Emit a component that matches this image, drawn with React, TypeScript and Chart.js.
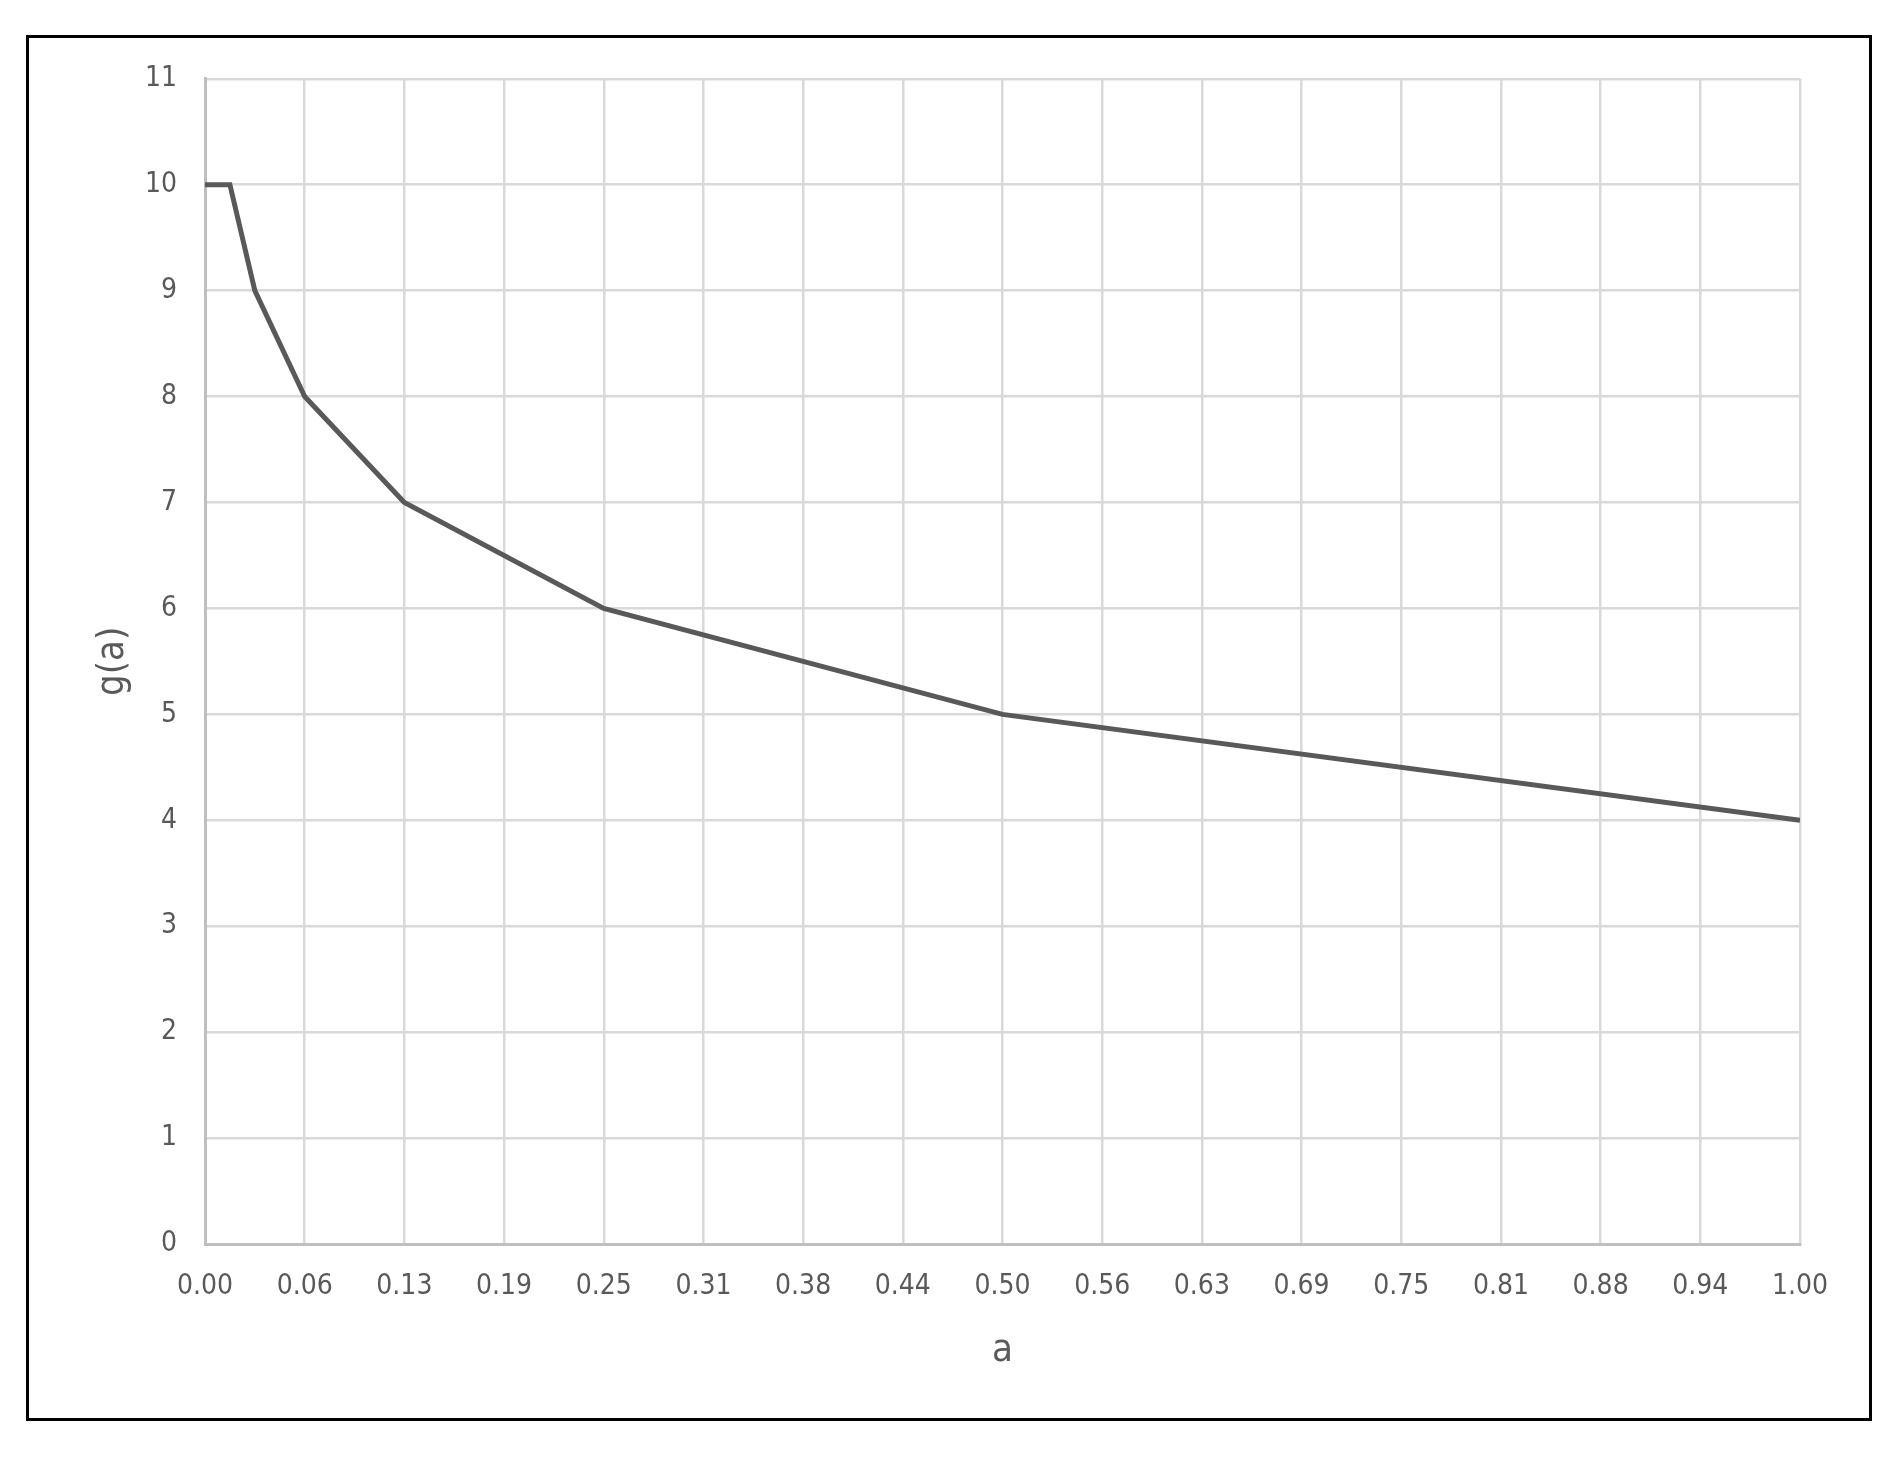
import React, { useEffect, useRef } from "react";
import { Chart, registerables } from "chart.js";

Chart.register(...registerables);

const aValues = [0, 0.015625, 0.03125, 0.0625, 0.125, 0.25, 0.5, 1];
const gValues = [10, 10, 9, 8, 7, 6, 5, 4];
const xTickLabels = [
  "0.00", "0.06", "0.13", "0.19", "0.25", "0.31", "0.38", "0.44", "0.50",
  "0.56", "0.63", "0.69", "0.75", "0.81", "0.88", "0.94", "1.00",
];
const yTickLabels = ["0", "1", "2", "3", "4", "5", "6", "7", "8", "9", "10", "11"];

const FONT = "'Liberation Sans Narrow', 'DejaVu Sans Condensed', 'Liberation Sans', sans-serif";

export default function App() {
  const ref = useRef<HTMLCanvasElement | null>(null);
  useEffect(() => {
    if (!ref.current) return;
    const chart = new Chart(ref.current, {
      type: "scatter",
      data: {
        datasets: [
          {
            data: aValues.map((a, i) => ({ x: a, y: gValues[i] })),
            showLine: true,
            borderColor: "#595959",
            borderWidth: 5,
            pointRadius: 0,
            fill: false,
            tension: 0,
          },
        ],
      },
      options: {
        animation: false,
        responsive: true,
        maintainAspectRatio: false,
        layout: { padding: { top: 35, right: 69, left: 0, bottom: 0 } },
        plugins: { legend: { display: false }, tooltip: { enabled: false } },
        scales: {
          x: {
            type: "linear",
            min: 0,
            max: 1,
            afterFit: (s: any) => { s.height = 174; },
            ticks: {
              stepSize: 0.0625,
              autoSkip: false,
              maxRotation: 0,
              padding: 26,
              color: "#595959",
              font: { family: FONT, size: 28 },
              callback: (_v: any, i: number) => xTickLabels[i],
            },
            grid: { color: "#d9d9d9", lineWidth: 2.5, drawTicks: false },
            border: { color: "#bfbfbf", width: 3 },
            title: {
              display: true,
              text: "a",
              color: "#595959",
              font: { family: FONT, size: 38 },
              padding: { top: 0, bottom: 44 },
            },
          },
          y: {
            min: 0,
            max: 11,
            afterFit: (s: any) => { s.width = 176; },
            ticks: {
              stepSize: 1,
              padding: 28,
              color: "#595959",
              font: { family: FONT, size: 28 },
              callback: (_v: any, i: number) => yTickLabels[i],
            },
            grid: { color: "#d9d9d9", lineWidth: 2.5, drawTicks: false },
            border: { color: "#bfbfbf", width: 3 },
            title: {
              display: true,
              text: "g(a)",
              color: "#595959",
              font: { family: FONT, size: 38 },
              padding: { top: 61, bottom: 0 },
            },
          },
        },
      },
    });
    return () => chart.destroy();
  }, []);
  return (
    <div
      style={{
        position: "absolute",
        left: 26,
        top: 35,
        width: 1846,
        height: 1386,
        border: "3px solid #000",
        boxSizing: "border-box",
        background: "#fff",
      }}
    >
      <div style={{ position: "relative", top: -4, width: 1840, height: 1384 }}>
        <canvas ref={ref} />
      </div>
    </div>
  );
}
